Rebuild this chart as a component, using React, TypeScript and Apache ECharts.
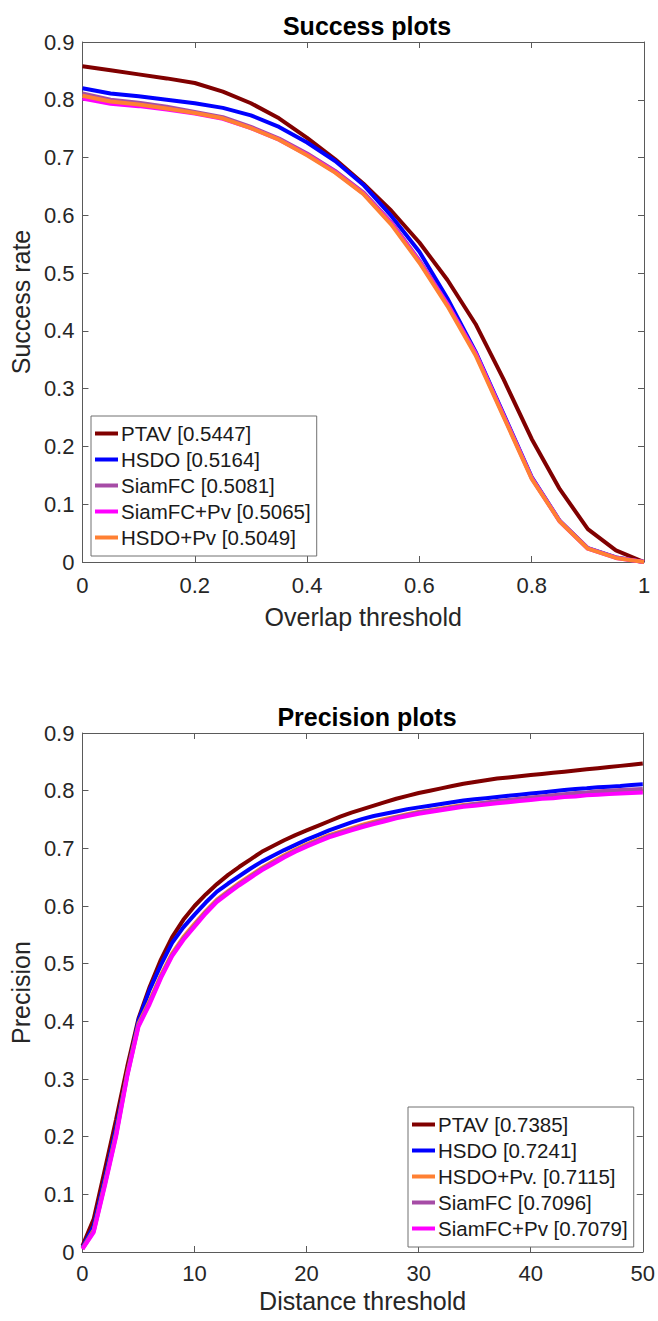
import React, { useEffect, useRef } from "react";
import * as echarts from "echarts";

// ---------- Success plot data ----------
const overlapThresholds = [0, 0.05, 0.1, 0.15, 0.2, 0.25, 0.3, 0.35, 0.4, 0.45, 0.5, 0.55, 0.6, 0.65, 0.7, 0.75, 0.8, 0.85, 0.9, 0.95, 1];
const successNames = ["PTAV [0.5447]", "HSDO [0.5164]", "SiamFC [0.5081]", "SiamFC+Pv [0.5065]", "HSDO+Pv [0.5049]"];
const successPTAV = [0.858, 0.851, 0.844, 0.837, 0.829, 0.814, 0.794, 0.768, 0.734, 0.697, 0.655, 0.608, 0.553, 0.488, 0.412, 0.316, 0.213, 0.126, 0.057, 0.02, 0.0];
const successHSDO = [0.82, 0.811, 0.806, 0.8, 0.794, 0.786, 0.773, 0.753, 0.726, 0.694, 0.653, 0.599, 0.537, 0.456, 0.364, 0.256, 0.147, 0.071, 0.024, 0.008, 0.0];
const successSiamFC = [0.811, 0.8, 0.795, 0.788, 0.779, 0.77, 0.753, 0.733, 0.707, 0.677, 0.64, 0.588, 0.522, 0.447, 0.362, 0.254, 0.146, 0.071, 0.024, 0.008, 0.0];
const successSiamFCPv = [0.802, 0.793, 0.789, 0.783, 0.776, 0.767, 0.751, 0.731, 0.705, 0.675, 0.638, 0.586, 0.52, 0.446, 0.361, 0.253, 0.145, 0.07, 0.023, 0.007, 0.0];
const successHSDOPv = [0.807, 0.797, 0.792, 0.785, 0.777, 0.768, 0.751, 0.731, 0.704, 0.674, 0.637, 0.584, 0.518, 0.443, 0.358, 0.251, 0.144, 0.07, 0.023, 0.007, 0.0];
const successColors = ["#800000", "#0000ff", "#a64ca6", "#ff00ff", "#ff8033"];
const successValues = [successPTAV, successHSDO, successSiamFC, successSiamFCPv, successHSDOPv];

// ---------- Precision plot data ----------
const distanceThresholds = Array.from({ length: 51 }, (_, i) => i);
const precisionNames = ["PTAV [0.7385]", "HSDO [0.7241]", "HSDO+Pv. [0.7115]", "SiamFC [0.7096]", "SiamFC+Pv [0.7079]"];
const precisionPTAV = [0.011, 0.057, 0.143, 0.23, 0.322, 0.405, 0.46, 0.507, 0.546, 0.576, 0.6, 0.62, 0.638, 0.654, 0.668, 0.681, 0.694, 0.704, 0.714, 0.723, 0.731, 0.739, 0.747, 0.755, 0.762, 0.768, 0.774, 0.78, 0.786, 0.791, 0.796, 0.8, 0.804, 0.808, 0.812, 0.815, 0.818, 0.821, 0.823, 0.825, 0.827, 0.829, 0.831, 0.833, 0.835, 0.837, 0.839, 0.841, 0.843, 0.845, 0.847];
const precisionHSDO = [0.008, 0.045, 0.128, 0.215, 0.31, 0.402, 0.455, 0.498, 0.536, 0.563, 0.585, 0.606, 0.625, 0.639, 0.652, 0.665, 0.677, 0.687, 0.697, 0.706, 0.715, 0.723, 0.731, 0.738, 0.745, 0.751, 0.756, 0.76, 0.764, 0.768, 0.771, 0.774, 0.777, 0.78, 0.783, 0.785, 0.787, 0.789, 0.791, 0.793, 0.795, 0.797, 0.799, 0.801, 0.803, 0.804, 0.806, 0.807, 0.808, 0.81, 0.811];
const precisionHSDOPv = [0.006, 0.038, 0.12, 0.206, 0.31, 0.396, 0.436, 0.48, 0.518, 0.546, 0.569, 0.591, 0.611, 0.626, 0.64, 0.653, 0.666, 0.677, 0.688, 0.698, 0.707, 0.715, 0.723, 0.729, 0.735, 0.741, 0.746, 0.751, 0.755, 0.759, 0.763, 0.766, 0.769, 0.772, 0.775, 0.777, 0.779, 0.781, 0.783, 0.785, 0.787, 0.789, 0.79, 0.792, 0.793, 0.795, 0.796, 0.797, 0.798, 0.799, 0.8];
const precisionSiamFC = [0.006, 0.036, 0.118, 0.203, 0.307, 0.393, 0.433, 0.477, 0.515, 0.543, 0.566, 0.589, 0.609, 0.624, 0.638, 0.651, 0.664, 0.675, 0.686, 0.696, 0.705, 0.713, 0.721, 0.727, 0.733, 0.739, 0.744, 0.749, 0.754, 0.758, 0.762, 0.765, 0.768, 0.771, 0.774, 0.777, 0.779, 0.782, 0.784, 0.786, 0.788, 0.79, 0.792, 0.794, 0.796, 0.797, 0.799, 0.8, 0.801, 0.802, 0.803];
const precisionSiamFCPv = [0.005, 0.034, 0.115, 0.2, 0.305, 0.391, 0.43, 0.475, 0.513, 0.541, 0.564, 0.587, 0.607, 0.622, 0.636, 0.649, 0.662, 0.673, 0.684, 0.694, 0.703, 0.711, 0.719, 0.725, 0.731, 0.737, 0.742, 0.747, 0.752, 0.756, 0.76, 0.763, 0.766, 0.769, 0.772, 0.774, 0.776, 0.778, 0.78, 0.782, 0.784, 0.786, 0.787, 0.789, 0.79, 0.792, 0.793, 0.794, 0.795, 0.796, 0.797];
const precisionColors = ["#800000", "#0000ff", "#ff8033", "#a64ca6", "#ff00ff"];
const precisionValues = [precisionPTAV, precisionHSDO, precisionHSDOPv, precisionSiamFC, precisionSiamFCPv];

const yTicks = [0, 0.1, 0.2, 0.3, 0.4, 0.5, 0.6, 0.7, 0.8, 0.9];

const FONT = "'Liberation Sans', Arial, Helvetica, sans-serif";
const AXIS_COLOR = "#5a5a5a";
const TEXT_COLOR = "#262626";

function fmt(v: number) {
  return String(Number(v.toFixed(2)));
}

export default function App() {
  const ref = useRef<HTMLDivElement>(null);
  useEffect(() => {
    document.body.style.margin = "0";
    if (!ref.current) return;
    const chart = echarts.init(ref.current, undefined, { renderer: "svg" });

    const grids = [
      { left: 80, top: 42, width: 564, height: 520 },
      { left: 80, top: 733, width: 564, height: 519 },
    ];

    const baseTick = { show: true, inside: true, length: 6, lineStyle: { color: AXIS_COLOR, width: 1 } };
    const baseLine = { show: true, onZero: false, lineStyle: { color: AXIS_COLOR, width: 1 } };

    const xAxes: any[] = [];
    const yAxes: any[] = [];
    const xCfg = [
      { max: 1, interval: 0.2, name: "Overlap threshold", labelMargin: 12, nameGap: 42 },
      { max: 50, interval: 10, name: "Distance threshold", labelMargin: 10, nameGap: 36 },
    ];
    const yNames = ["Success rate", "Precision"];
    for (let g = 0; g < 2; g++) {
      xAxes.push({
        type: "value",
        gridIndex: g,
        position: "bottom",
        min: 0,
        max: xCfg[g].max,
        interval: xCfg[g].interval,
        name: xCfg[g].name,
        nameLocation: "middle",
        nameGap: xCfg[g].nameGap,
        nameTextStyle: { fontSize: 25, color: TEXT_COLOR, fontFamily: FONT, lineHeight: 25 },
        axisLine: baseLine,
        axisTick: baseTick,
        splitLine: { show: false },
        axisLabel: {
          fontSize: 22,
          lineHeight: 22,
          color: TEXT_COLOR,
          fontFamily: FONT,
          margin: xCfg[g].labelMargin,
          formatter: (v: number) => fmt(v),
        },
      });
      xAxes.push({
        type: "value",
        gridIndex: g,
        position: "top",
        min: 0,
        max: xCfg[g].max,
        interval: xCfg[g].interval,
        axisLine: baseLine,
        axisTick: baseTick,
        splitLine: { show: false },
        axisLabel: { show: false },
      });
      yAxes.push({
        type: "value",
        gridIndex: g,
        position: "left",
        min: 0,
        max: 0.9,
        interval: 0.1,
        name: yNames[g],
        nameLocation: "middle",
        nameGap: 43,
        nameTextStyle: { fontSize: 25, color: TEXT_COLOR, fontFamily: FONT, lineHeight: 25 },
        axisLine: baseLine,
        axisTick: baseTick,
        splitLine: { show: false },
        axisLabel: {
          fontSize: 22,
          color: TEXT_COLOR,
          fontFamily: FONT,
          margin: 8,
          formatter: (v: number) => fmt(yTicks[Math.round(v * 10)] ?? v),
        },
      });
      yAxes.push({
        type: "value",
        gridIndex: g,
        position: "right",
        min: 0,
        max: 0.9,
        interval: 0.1,
        axisLine: baseLine,
        axisTick: baseTick,
        splitLine: { show: false },
        axisLabel: { show: false },
      });
    }

    const series: any[] = [];
    successNames.forEach((name, i) => {
      series.push({
        type: "line",
        name,
        xAxisIndex: 0,
        yAxisIndex: 0,
        data: overlapThresholds.map((x, k) => [x, successValues[i][k]]),
        showSymbol: false,
        symbol: "none",
        lineStyle: { color: successColors[i], width: 4 },
        itemStyle: { color: successColors[i] },
      });
    });
    precisionNames.forEach((name, i) => {
      series.push({
        type: "line",
        name,
        xAxisIndex: 2,
        yAxisIndex: 2,
        data: distanceThresholds.map((x, k) => [x, precisionValues[i][k]]),
        showSymbol: false,
        symbol: "none",
        lineStyle: { color: precisionColors[i], width: 4 },
        itemStyle: { color: precisionColors[i] },
      });
    });

    const legendBase = {
      orient: "vertical",
      icon: "rect",
      itemWidth: 23,
      itemHeight: 4,
      itemGap: 5,
      padding: [7, 6, 8, 4],
      borderColor: "#707070",
      borderWidth: 1,
      backgroundColor: "#ffffff",
      selectedMode: false,
      textStyle: { fontSize: 20.5, lineHeight: 20, color: "#1a1a1a", fontFamily: FONT, padding: [0, 0, 0, -2] },
    };

    chart.setOption({
      animation: false,
      textStyle: { fontFamily: FONT },
      title: [
        {
          text: "Success plots",
          left: 362,
          textAlign: "center",
          top: 8,
          textStyle: { fontSize: 25, fontWeight: "bold", color: "#000", fontFamily: FONT },
        },
        {
          text: "Precision plots",
          left: 362,
          textAlign: "center",
          top: 699,
          textStyle: { fontSize: 25, fontWeight: "bold", color: "#000", fontFamily: FONT },
        },
      ],
      grid: grids,
      xAxis: xAxes,
      yAxis: yAxes,
      legend: [
        { ...legendBase, left: 91, top: 416, data: successNames },
        { ...legendBase, left: 408, top: 1107, data: precisionNames },
      ],
      series,
    });

    return () => chart.dispose();
  }, []);

  return <div ref={ref} style={{ width: 658, height: 1321 }} />;
}
